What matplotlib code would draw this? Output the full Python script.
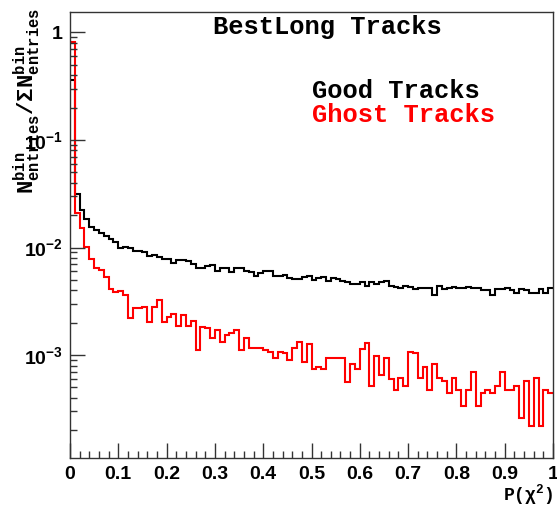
import numpy as np
import matplotlib
matplotlib.use("Agg")
import matplotlib.pyplot as plt
from matplotlib.ticker import FixedLocator, FixedFormatter, LogLocator, NullFormatter, MultipleLocator

# Normalised P(chi2) distributions, 100 bins on [0, 1]
bin_edges = np.linspace(0.0, 1.0, 101)

good_tracks = [
    0.36, 0.0312, 0.0223, 0.0184, 0.0156, 0.0145, 0.0135, 0.0128, 0.0120, 0.0112,
    0.0098, 0.0102, 0.0098, 0.0093, 0.0093, 0.0090, 0.0084, 0.0086, 0.0082, 0.0079,
    0.0078, 0.0072, 0.0076, 0.0077, 0.0075, 0.0070, 0.0065, 0.0065, 0.0067, 0.0069,
    0.0061, 0.0065, 0.0064, 0.0059, 0.0065, 0.0064, 0.0060, 0.0059, 0.00547, 0.0058,
    0.0060, 0.0060, 0.0054, 0.00547, 0.0056, 0.0052, 0.0051, 0.0051, 0.00535, 0.00547,
    0.0050, 0.0052, 0.0053, 0.0049, 0.0052, 0.0051, 0.0049, 0.00475, 0.0046, 0.0046,
    0.00475, 0.0044, 0.00475, 0.0046, 0.00475, 0.0049, 0.0044, 0.0043, 0.0042, 0.0044,
    0.0043, 0.0041, 0.0042, 0.0042, 0.0042, 0.0036, 0.0044, 0.0041, 0.0042, 0.0043,
    0.0042, 0.0042, 0.0043, 0.0042, 0.0042, 0.0040, 0.0040, 0.0036, 0.0041, 0.0041,
    0.0042, 0.0040, 0.0038, 0.0041, 0.0040, 0.0038, 0.0038, 0.0041, 0.0038, 0.0042,
]

ghost_tracks = [
    0.82, 0.0208, 0.0151, 0.0102, 0.00777, 0.00641, 0.00618, 0.00528, 0.00409, 0.00388,
    0.00394, 0.00362, 0.00220, 0.00276, 0.00276, 0.00282, 0.00202, 0.00278, 0.00325, 0.00204,
    0.00228, 0.00241, 0.00186, 0.00236, 0.00186, 0.00209, 0.00111, 0.00184, 0.00180, 0.00143,
    0.00171, 0.00133, 0.00154, 0.00162, 0.00171, 0.00111, 0.00143, 0.00117, 0.00117, 0.00117,
    0.00111, 0.00108, 0.00095, 0.00108, 0.00104, 0.00090, 0.00117, 0.00133, 0.00087, 0.00126,
    0.00074, 0.00078, 0.00074, 0.00095, 0.00095, 0.00095, 0.00095, 0.000566, 0.00082, 0.00074,
    0.00113, 0.00129, 0.000516, 0.00099, 0.00065, 0.00095, 0.000604, 0.000474, 0.00061, 0.00052,
    0.00108, 0.00104, 0.00061, 0.00078, 0.00047, 0.00083, 0.00061, 0.00057, 0.00044, 0.00061,
    0.00047, 0.00034, 0.00047, 0.00069, 0.00034, 0.00044, 0.00047, 0.00044, 0.00052, 0.00069,
    0.00047, 0.00047, 0.00052, 0.00026, 0.00057, 0.00022, 0.00061, 0.00022, 0.00047, 0.00044,
]

title_text = "BestLong Tracks"
series_labels = ["Good Tracks", "Ghost Tracks"]
series_colors = ["black", "#ff0000"]
x_tick_values = [0.0, 0.1, 0.2, 0.3, 0.4, 0.5, 0.6, 0.7, 0.8, 0.9, 1.0]
x_tick_labels = ["0", "0.1", "0.2", "0.3", "0.4", "0.5", "0.6", "0.7", "0.8", "0.9", "1"]
y_tick_values = [1.0, 0.1, 0.01, 0.001]
y_tick_labels = ["1", r"$\mathdefault{10^{-1}}$", r"$\mathdefault{10^{-2}}$", r"$\mathdefault{10^{-3}}$"]

W, H = 557, 507
fig = plt.figure(figsize=(W / 100, H / 100), dpi=100)
ax = fig.add_axes([70 / W, 1 - 458 / H, (553 - 70) / W, (458 - 12) / H])

for vals, col in zip([good_tracks, ghost_tracks], series_colors):
    ax.stairs(vals, bin_edges, color=col, linewidth=1.5, baseline=None)

ax.set_yscale("log")
ax.set_xlim(0, 1)
ax.set_ylim(1.106e-4, 1.544)

mono = {"family": "Liberation Mono", "weight": "bold"}
sans = {"family": "Liberation Sans", "weight": "bold"}

ax.xaxis.set_major_locator(FixedLocator(x_tick_values))
ax.xaxis.set_major_formatter(FixedFormatter(x_tick_labels))
ax.xaxis.set_minor_locator(MultipleLocator(0.02))
ax.yaxis.set_major_locator(FixedLocator(y_tick_values))
ax.yaxis.set_major_formatter(FixedFormatter(y_tick_labels))
ax.yaxis.set_minor_locator(LogLocator(base=10, subs=np.arange(2, 10)))
ax.yaxis.set_minor_formatter(NullFormatter())

ax.tick_params(which="both", direction="in", top=False, right=False, color="#333333")
ax.tick_params(which="major", length=10.5, width=1.0)
ax.tick_params(which="minor", length=5.0, width=1.0)
ax.tick_params(axis="x", which="major", pad=6)
ax.tick_params(axis="y", which="major", pad=5)
for lab in ax.get_xticklabels() + ax.get_yticklabels():
    lab.set_fontfamily(sans["family"])
    lab.set_fontweight("bold")
    lab.set_fontsize(14)

for sp in ax.spines.values():
    sp.set_color("#333333")
    sp.set_linewidth(1.0)

def fig_text(xpx, ypx, s, **kw):
    fig.text(xpx / W, 1 - ypx / H, s, **kw)

fig_text(213, 34, title_text, fontsize=18.4, va="baseline", ha="left", **mono)
fig_text(312, 98, series_labels[0], fontsize=18.4, va="baseline", ha="left",
         color=series_colors[0], **mono)
fig_text(312, 121.5, series_labels[1], fontsize=18.4, va="baseline", ha="left",
         color=series_colors[1], **mono)

fig_text(553, 507, r"$\mathdefault{P(χ^{2})}$", fontsize=13, ha="right", va="bottom", **mono)
fig_text(27, 8, r"$\mathdefault{N^{bin}_{entries}/ΣN^{bin}_{entries}}$",
         fontsize=16, rotation=90, ha="center", va="top", **mono)

fig.savefig("out.png", dpi=100)
